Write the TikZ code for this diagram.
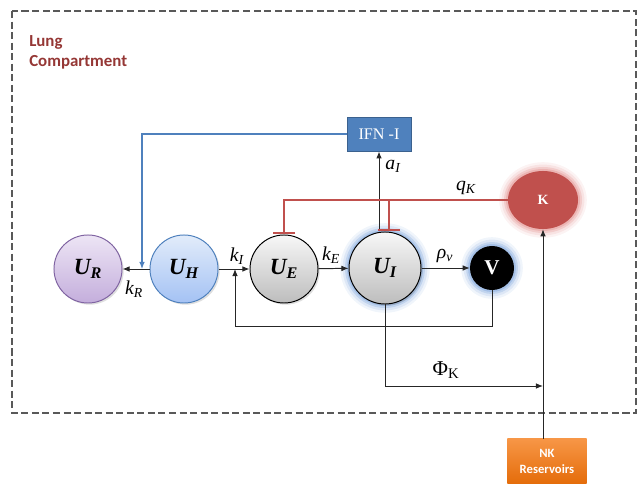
\documentclass[tikz,border=0pt]{standalone}
\usepackage{fontspec}
\setmainfont{Liberation Serif}
\newfontfamily\calfont{Carlito}
\usetikzlibrary{arrows.meta,shadows,shapes.geometric,backgrounds}
\definecolor{lungred}{HTML}{953735}
\definecolor{purpT}{HTML}{EDE5F5}
\definecolor{purpB}{HTML}{C4AEDC}
\definecolor{purpD}{HTML}{8064A2}
\definecolor{blueT}{HTML}{E2ECFA}
\definecolor{blueB}{HTML}{A4C2F4}
\definecolor{blueD}{HTML}{4F81BD}
\definecolor{grayT}{HTML}{F7F7F7}
\definecolor{grayB}{HTML}{BDBDBD}
\definecolor{kred}{HTML}{C0504D}
\definecolor{glowblue}{HTML}{6F9BD8}
\definecolor{glowred}{HTML}{E08886}
\definecolor{nkT}{HTML}{F79646}
\definecolor{nkB}{HTML}{E46C0A}
\begin{document}
\begin{tikzpicture}[x=0.025cm,y=-0.025cm,
  conn/.style={draw=black!85, line width=0.7pt, -{Latex[length=5pt,width=4pt]}},
  inhib/.style={draw=kred, line width=1.4pt, -{Bar[width=0.55cm,line width=1.6pt]}},
  ucirc/.style={circle, minimum size=1.7cm, inner sep=0pt, line width=0.7pt,
    font=\fontsize{16.5}{19}\selectfont\bfseries\itshape,
    drop shadow={opacity=0.25, shadow xshift=1.2pt, shadow yshift=-1.2pt}},
  lab/.style={font=\fontsize{14}{16}\selectfont\itshape, inner sep=0pt},
]
\useasboundingbox (0,0) rectangle (638,484);
\draw[draw=black!65, line width=0.9pt, dash pattern=on 5pt off 2.5pt] (12,11) rectangle (636,413);
\node[anchor=west, align=left, inner sep=0pt, text=lungred,
  font=\calfont\bfseries\fontsize{12}{14.2}\selectfont] (title) at (29,52) {Lung\\Compartment};

% compartments
\node[ucirc, draw=purpD, top color=purpT, bottom color=purpB] (UR) at (88,269) {U\textsubscript{R}};
\node[ucirc, draw=blueD, top color=blueT, bottom color=blueB] (UH) at (184,269) {U\textsubscript{H}};
\node[ucirc, draw=black, top color=grayT, bottom color=grayB] (UE) at (284,269) {U\textsubscript{E}};
\node[ucirc, draw=black, top color=grayT, bottom color=grayB, minimum size=1.8cm, drop shadow={opacity=0}] (UI) at (385,268) {U\textsubscript{I}};
\node[circle, fill=black, minimum size=1.1cm, inner sep=0pt, text=white,
  font=\bfseries\fontsize{15}{17}\selectfont] (V) at (492,268) {V};
\node[ellipse, fill=kred, minimum width=1.75cm, minimum height=1.45cm, inner sep=0pt,
  text=white, font=\bfseries\fontsize{10}{12}\selectfont] (K) at (543,200) {K};
\node[rectangle, fill=blueD, draw=blueD!75!black, line width=0.6pt, minimum width=1.6cm,
  minimum height=0.85cm, text=white, font=\fontsize{11.5}{13}\selectfont] (IFN) at (379,134) {IFN -I};
\node[rectangle, top color=nkT, bottom color=nkB, minimum width=1.975cm, minimum height=1.125cm,
  text=white, align=center, font=\calfont\bfseries\fontsize{9}{12}\selectfont] (NK) at (547,461.5) {NK\\Reservoirs};

% glows
\begin{scope}[on background layer]
  \foreach \r/\o in {0.22/0.10,0.16/0.15,0.10/0.25,0.05/0.35}{
    \fill[glowblue, opacity=\o] (UI.center) circle [radius=0.9cm+\r cm];
    \fill[glowblue, opacity=\o] (V.center) circle [radius=0.55cm+\r cm];
    \fill[glowred, opacity=\o] (K.center) ellipse [x radius=0.875cm+\r cm, y radius=0.725cm+\r cm];
  }
\end{scope}

% connectors
\draw[conn] (UH) -- (UR);
\coordinate (hR) at (142,269);
\draw[conn, draw=blueD, line width=0.8pt] (IFN.west) -| (hR);
\draw[conn] (UH) -- (UE);
\draw[conn] (UE) -- (UI);
\draw[conn] (UI) -- (V);
\coordinate (fbc) at (235,326);
\draw[conn] (V.south) |- (fbc) -- (fbc |- UH.east);
\draw[conn] (IFN.south |- UI.north) -- (IFN.south);
\coordinate (qE) at (UE.north |- K.west);
\coordinate (qI) at (389,200);
\draw[inhib] (K.west) -- (qE) -- (UE.north);
\draw[inhib] (qI) -- (qI |- UI.north);
\coordinate (phiE) at (543,386);
\draw[conn] (UI.south) |- (phiE);
\draw[conn] (K.south |- NK.north) -- (K.south);

% labels
\node[lab] (lkR) at (134,289) {k\textsubscript{R}};
\node[lab] (lkI) at (237,256) {k\textsubscript{I}};
\node[lab] (lkE) at (331,255) {k\textsubscript{E}};
\node[lab] (lrho) at (445,256) {ρ\textsubscript{v}};
\node[lab] (laI) at (393,166) {a\textsubscript{I}};
\node[lab] (lqK) at (466,188) {q\textsubscript{K}};
\node[inner sep=0pt, font=\fontsize{15}{17}\selectfont] (lphi) at (446,370) {Φ\textsubscript{K}};
\end{tikzpicture}
\end{document}
